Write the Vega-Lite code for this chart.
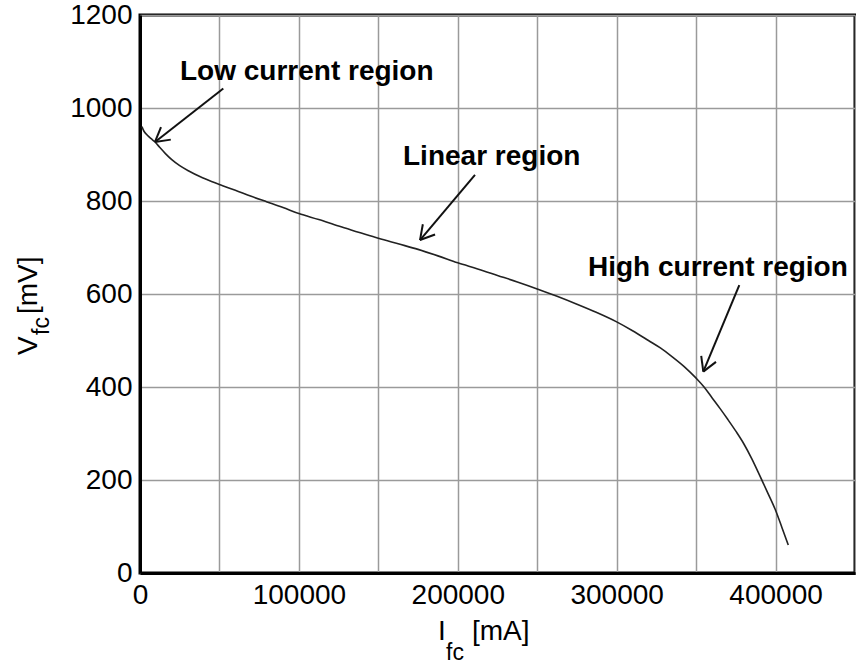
{
  "$schema": "https://vega.github.io/schema/vega-lite/v6.json",
  "width": 715,
  "height": 558,
  "autosize": "none",
  "padding": {"left": 140, "top": 15, "right": 1, "bottom": 93},
  "background": "white",
  "config": {
    "view": {"stroke": "black", "strokeWidth": 3},
    "font": "Liberation Sans",
    "text": {"font": "Liberation Sans", "color": "black"}
  },
  "datasets": {
    "curve": [
      {"I": 1200, "V": 960}, {"I": 2500, "V": 950}, {"I": 4500, "V": 942},
      {"I": 7000, "V": 934}, {"I": 9400, "V": 927}, {"I": 12500, "V": 915},
      {"I": 16000, "V": 902}, {"I": 20000, "V": 889}, {"I": 25000, "V": 876},
      {"I": 31000, "V": 864}, {"I": 38000, "V": 852}, {"I": 45000, "V": 842},
      {"I": 52000, "V": 833}, {"I": 60000, "V": 823}, {"I": 70000, "V": 810},
      {"I": 80000, "V": 798}, {"I": 90000, "V": 786}, {"I": 100000, "V": 773},
      {"I": 112500, "V": 760}, {"I": 125000, "V": 746}, {"I": 137500, "V": 733},
      {"I": 150000, "V": 720}, {"I": 162500, "V": 708}, {"I": 175000, "V": 696},
      {"I": 187500, "V": 682}, {"I": 200000, "V": 667}, {"I": 212500, "V": 654},
      {"I": 225000, "V": 640}, {"I": 237500, "V": 626}, {"I": 250000, "V": 611},
      {"I": 262500, "V": 595}, {"I": 275000, "V": 578}, {"I": 287500, "V": 560},
      {"I": 300000, "V": 540}, {"I": 310000, "V": 521}, {"I": 320000, "V": 500},
      {"I": 327500, "V": 484}, {"I": 335000, "V": 465}, {"I": 342500, "V": 444},
      {"I": 350000, "V": 419}, {"I": 355000, "V": 400}, {"I": 360000, "V": 377},
      {"I": 365000, "V": 354}, {"I": 370000, "V": 330}, {"I": 375000, "V": 305},
      {"I": 380000, "V": 278}, {"I": 385000, "V": 246}, {"I": 390000, "V": 210},
      {"I": 395000, "V": 173}, {"I": 400000, "V": 135}, {"I": 404000, "V": 98},
      {"I": 408000, "V": 60}
    ],
    "arrows": [
      {"x": 52430, "y": 1042, "x2": 9440, "y2": 927},
      {"x": 19390, "y": 932, "x2": 9440, "y2": 927},
      {"x": 13217, "y": 959, "x2": 9440, "y2": 927},
      {"x": 210839, "y": 856, "x2": 176224, "y2": 716},
      {"x": 185699, "y": 728, "x2": 176224, "y2": 716},
      {"x": 178005, "y": 750, "x2": 176224, "y2": 716},
      {"x": 377182, "y": 619, "x2": 354524, "y2": 433},
      {"x": 362517, "y": 454, "x2": 354524, "y2": 433},
      {"x": 353215, "y": 467, "x2": 354524, "y2": 433}
    ],
    "notes": [
      {"x": 25175, "y": 1060, "label": "Low current region"},
      {"x": 165530, "y": 877, "label": "Linear region"},
      {"x": 281960, "y": 639, "label": "High current region"}
    ],
    "xtitle": [
      {"x": 187553, "y": -144, "label": "I"},
      {"x": 208951, "y": -144, "label": "[mA]"}
    ],
    "xsub": [
      {"x": 192587, "y": -188, "label": "fc"}
    ],
    "ytitle": [
      {"x": -64825, "y": 469, "label": "V"},
      {"x": -64825, "y": 557, "label": "[mV]"}
    ],
    "ysub": [
      {"x": -57500, "y": 512, "label": "fc"}
    ]
  },
  "layer": [
    {
      "data": {"name": "curve"},
      "mark": {"type": "line", "color": "#222222", "strokeWidth": 1.6, "interpolate": "monotone"},
      "encoding": {
        "x": {
          "field": "I", "type": "quantitative",
          "scale": {"domain": [0, 450000], "nice": false, "zero": false},
          "axis": {
            "values": [0, 50000, 100000, 150000, 200000, 250000, 300000, 350000, 400000, 450000],
            "format": "d",
            "labelExpr": "datum.value % 100000 === 0 ? datum.label : ''",
            "title": null, "grid": true, "gridColor": "#9a9a9a", "gridWidth": 1.5,
            "ticks": false, "domainColor": "black", "domainWidth": 3,
            "labelFontSize": 28, "labelColor": "black", "labelPadding": 8,
            "labelFont": "Liberation Sans", "labelFlush": false, "labelOverlap": false
          }
        },
        "y": {
          "field": "V", "type": "quantitative",
          "scale": {"domain": [0, 1200], "nice": false, "zero": false},
          "axis": {
            "values": [0, 200, 400, 600, 800, 1000, 1200],
            "format": "d",
            "title": null, "grid": true, "gridColor": "#9a9a9a", "gridWidth": 1.5,
            "ticks": false, "domainColor": "black", "domainWidth": 3,
            "labelFontSize": 28, "labelColor": "black", "labelPadding": 8,
            "labelFont": "Liberation Sans", "labelOverlap": false
          }
        }
      }
    },
    {
      "data": {"name": "arrows"},
      "mark": {"type": "rule", "color": "#111111", "strokeWidth": 2},
      "encoding": {
        "x": {"field": "x", "type": "quantitative", "scale": {"domain": [0, 450000], "nice": false, "zero": false}},
        "y": {"field": "y", "type": "quantitative", "scale": {"domain": [0, 1200], "nice": false, "zero": false}},
        "x2": {"field": "x2"},
        "y2": {"field": "y2"}
      }
    },
    {
      "data": {"name": "notes"},
      "mark": {"type": "text", "fontSize": 28, "fontWeight": "bold", "align": "left", "baseline": "alphabetic"},
      "encoding": {
        "x": {"field": "x", "type": "quantitative", "scale": {"domain": [0, 450000], "nice": false, "zero": false}},
        "y": {"field": "y", "type": "quantitative", "scale": {"domain": [0, 1200], "nice": false, "zero": false}},
        "text": {"field": "label"}
      }
    },
    {
      "data": {"name": "xtitle"},
      "mark": {"type": "text", "fontSize": 28, "align": "left", "baseline": "alphabetic"},
      "encoding": {
        "x": {"field": "x", "type": "quantitative", "scale": {"domain": [0, 450000], "nice": false, "zero": false}},
        "y": {"field": "y", "type": "quantitative", "scale": {"domain": [0, 1200], "nice": false, "zero": false}},
        "text": {"field": "label"}
      }
    },
    {
      "data": {"name": "xsub"},
      "mark": {"type": "text", "fontSize": 23, "align": "left", "baseline": "alphabetic"},
      "encoding": {
        "x": {"field": "x", "type": "quantitative", "scale": {"domain": [0, 450000], "nice": false, "zero": false}},
        "y": {"field": "y", "type": "quantitative", "scale": {"domain": [0, 1200], "nice": false, "zero": false}},
        "text": {"field": "label"}
      }
    },
    {
      "data": {"name": "ytitle"},
      "mark": {"type": "text", "fontSize": 28, "align": "left", "baseline": "alphabetic", "angle": 270},
      "encoding": {
        "x": {"field": "x", "type": "quantitative", "scale": {"domain": [0, 450000], "nice": false, "zero": false}},
        "y": {"field": "y", "type": "quantitative", "scale": {"domain": [0, 1200], "nice": false, "zero": false}},
        "text": {"field": "label"}
      }
    },
    {
      "data": {"name": "ysub"},
      "mark": {"type": "text", "fontSize": 23, "align": "left", "baseline": "alphabetic", "angle": 270},
      "encoding": {
        "x": {"field": "x", "type": "quantitative", "scale": {"domain": [0, 450000], "nice": false, "zero": false}},
        "y": {"field": "y", "type": "quantitative", "scale": {"domain": [0, 1200], "nice": false, "zero": false}},
        "text": {"field": "label"}
      }
    }
  ]
}
